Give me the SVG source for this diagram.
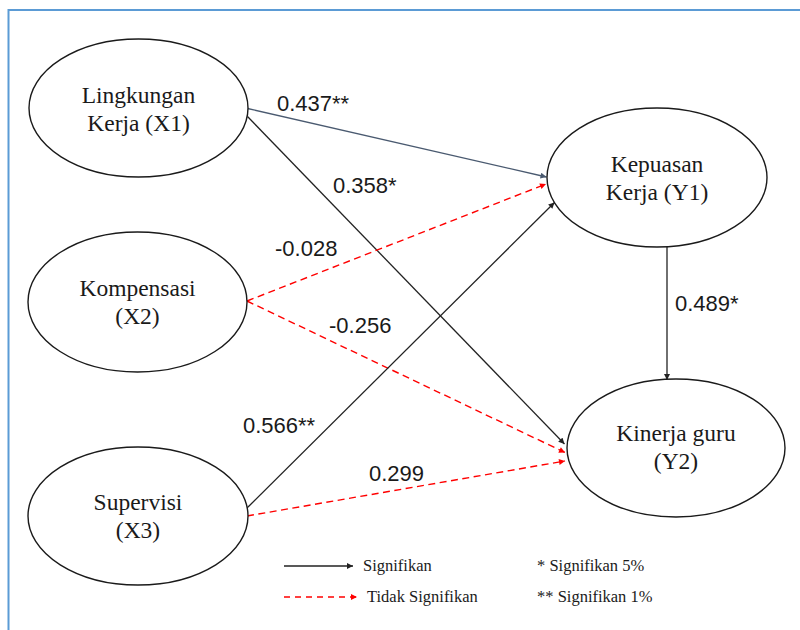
<svg xmlns="http://www.w3.org/2000/svg" width="800" height="630" viewBox="0 0 800 630">
  <style>
    .node ellipse { fill: #ffffff; stroke: #1a1a1a; stroke-width: 1.4; }
    .node text { font-family: "Liberation Serif", "Times New Roman", serif; font-size: 23.5px; fill: #1a1a1a; text-anchor: middle; }
    .lbl { font-family: "Liberation Sans", Arial, sans-serif; font-size: 22px; fill: #1a1a1a; }
    .leg { font-family: "Liberation Serif", "Times New Roman", serif; font-size: 16.5px; fill: #1a1a1a; }
    .sig { stroke: #222222; stroke-width: 1.3; fill: none; marker-end: url(#ab); }
    .sigb { stroke: #4a5a70; stroke-width: 1.3; fill: none; marker-end: url(#ag); }
    .ns { stroke: #ff0000; stroke-width: 1.4; fill: none; stroke-dasharray: 7 4.5; marker-end: url(#ar); }
  </style>
  <defs>
    <marker id="ab" viewBox="0 0 10 10" refX="10" refY="5" markerWidth="7" markerHeight="6" markerUnits="userSpaceOnUse" orient="auto">
      <path d="M0,0 L10,5 L0,10 z" fill="#222222"/>
    </marker>
    <marker id="ag" viewBox="0 0 10 10" refX="10" refY="5" markerWidth="7" markerHeight="6" markerUnits="userSpaceOnUse" orient="auto">
      <path d="M0,0 L10,5 L0,10 z" fill="#4a5a70"/>
    </marker>
    <marker id="ar" viewBox="0 0 10 10" refX="10" refY="5" markerWidth="7" markerHeight="6" markerUnits="userSpaceOnUse" orient="auto">
      <path d="M0,0 L10,5 L0,10 z" fill="#ff0000"/>
    </marker>
  </defs>

  <rect x="8.5" y="10" width="800" height="630" fill="#ffffff" stroke="#5b9bd5" stroke-width="2"/>

  <g id="connectors">
    <line class="sigb" x1="247.5" y1="108.5" x2="546.5" y2="177"/>
    <line class="sig" x1="247.5" y1="116.5" x2="564.5" y2="444"/>
    <line class="ns" x1="247" y1="301" x2="546" y2="184"/>
    <line class="ns" x1="247" y1="301" x2="565" y2="452.5"/>
    <line class="sig" x1="246.5" y1="508.5" x2="554.5" y2="202.5"/>
    <line class="ns" x1="247" y1="516" x2="565" y2="461"/>
    <line class="sig" x1="667" y1="247" x2="667" y2="380"/>
  </g>

  <g id="labels">
    <text class="lbl" x="277" y="111">0.437**</text>
    <text class="lbl" x="333" y="193">0.358*</text>
    <text class="lbl" x="275" y="256">-0.028</text>
    <text class="lbl" x="329" y="333">-0.256</text>
    <text class="lbl" x="243" y="433">0.566**</text>
    <text class="lbl" x="369" y="481">0.299</text>
    <text class="lbl" x="675" y="311">0.489*</text>
  </g>

  <g id="X1" class="node">
    <ellipse cx="138.5" cy="108" rx="109.5" ry="69"/>
    <text x="138.5" y="103">Lingkungan</text>
    <text x="138.5" y="131">Kerja (X1)</text>
  </g>
  <g id="X2" class="node">
    <ellipse cx="137.5" cy="302" rx="109.5" ry="70"/>
    <text x="137.5" y="296">Kompensasi</text>
    <text x="137.5" y="324">(X2)</text>
  </g>
  <g id="X3" class="node">
    <ellipse cx="138" cy="516" rx="110" ry="69"/>
    <text x="138" y="510">Supervisi</text>
    <text x="138" y="538">(X3)</text>
  </g>
  <g id="Y1" class="node">
    <ellipse cx="657" cy="177.5" rx="110" ry="69.5"/>
    <text x="657" y="172">Kepuasan</text>
    <text x="657" y="200">Kerja (Y1)</text>
  </g>
  <g id="Y2" class="node">
    <ellipse cx="676" cy="448" rx="109" ry="69"/>
    <text x="676" y="441">Kinerja guru</text>
    <text x="676" y="469">(Y2)</text>
  </g>

  <g id="legend">
    <line class="sig" x1="284" y1="566" x2="353" y2="566"/>
    <text class="leg" x="363" y="571">Signifikan</text>
    <line class="ns" x1="284" y1="597" x2="357" y2="597" style="stroke-dasharray: 6 5"/>
    <text class="leg" x="367" y="602">Tidak Signifikan</text>
    <text class="leg" x="537" y="571">* Signifikan 5%</text>
    <text class="leg" x="537" y="602">** Signifikan 1%</text>
  </g>
</svg>
